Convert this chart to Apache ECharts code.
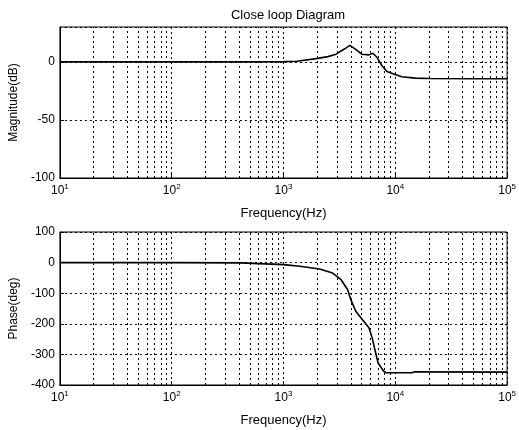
<!DOCTYPE html>
<html>
<head>
<meta charset="utf-8">
<script src="https://cdn.jsdelivr.net/npm/echarts@6/dist/echarts.min.js"></script>
<style>
  html, body { margin: 0; padding: 0; background: #fff; }
  #chart { width: 519px; height: 430px; }
</style>
</head>
<body>
<div id="chart"></div>
<script>
// magnitude response (Hz, dB)
const magFreq = [10, 500, 1000, 1320, 1960, 2500, 2950, 3470, 3920, 4430, 5000, 5810, 6300, 6880, 7600, 8430, 9660, 11430, 15000, 20000, 50000, 100000]
const magDb = [0, 0, 0.2, 0.5, 2.8, 4.5, 6.6, 10.8, 14.2, 10.8, 6.6, 6, 7.4, 3.7, -3.4, -8.3, -10.5, -12.8, -14, -14.3, -14.5, -14.5]

// phase response (Hz, deg)
const phaseFreq = [10, 100, 415, 1000, 1400, 2100, 2750, 3270, 3740, 4000, 4430, 5070, 5810, 6210, 6560, 7020, 7870, 8300, 14000, 15000, 100000]
const phaseDeg = [0, 0, -1, -6.5, -12, -21, -34, -56, -88, -121, -159, -186, -213, -246, -284, -328, -355, -360, -360, -357, -358]

// minor log grid positions (2..9 per decade)
const minorGrid = [20, 30, 40, 50, 60, 70, 80, 90,
    200, 300, 400, 500, 600, 700, 800, 900,
    2000, 3000, 4000, 5000, 6000, 7000, 8000, 9000,
    20000, 30000, 40000, 50000, 60000, 70000, 80000, 90000]

const FONT = 'Liberation Sans, Arial, sans-serif'
const dotted = { color: '#000', width: 1, type: [2, 3] }

function xAxisCfg(gridIndex) {
    return {
        type: 'log',
        logBase: 10,
        gridIndex: gridIndex,
        min: 10,
        max: 100000,
        name: 'Frequency(Hz)',
        nameLocation: 'middle',
        nameGap: 29,
        nameTextStyle: { color: '#000', fontSize: 13, fontFamily: FONT },
        axisLine: { onZero: false, lineStyle: { color: '#000' } },
        axisTick: { inside: true, length: 4, lineStyle: { color: '#000' } },
        splitLine: { show: true, lineStyle: dotted },
        axisLabel: {
            color: '#000',
            margin: 5,
            fontFamily: FONT,
            formatter: v => '{b|10}{s|' + Math.round(Math.log10(v)) + '}',
            rich: {
                b: { fontSize: 12, fontFamily: FONT, color: '#000' },
                s: { fontSize: 8, fontFamily: FONT, color: '#000', padding: [0, 0, 8, 0] }
            }
        }
    }
}

function yAxisCfg(gridIndex, name, min, max, interval) {
    return {
        type: 'value',
        gridIndex: gridIndex,
        min: min,
        max: max,
        interval: interval,
        name: name,
        nameLocation: 'middle',
        nameGap: 38,
        nameTextStyle: { color: '#000', fontSize: 12, fontFamily: FONT },
        axisLine: { show: true, onZero: false, lineStyle: { color: '#000' } },
        axisTick: { show: true, inside: true, length: 4, lineStyle: { color: '#000' } },
        splitLine: { show: true, lineStyle: dotted },
        axisLabel: { color: '#000', fontSize: 12, fontFamily: FONT, margin: 5, showMaxLabel: max % interval === 0 }
    }
}

function minorLines() {
    return {
        silent: true,
        symbol: 'none',
        label: { show: false },
        lineStyle: dotted,
        data: minorGrid.map(f => ({ xAxis: f }))
    }
}

const option = {
    backgroundColor: '#fff',
    animation: false,
    title: {
        text: 'Close loop Diagram',
        left: 283,
        textAlign: 'center',
        top: 4,
        textStyle: { fontSize: 13, fontWeight: 'normal', color: '#000', fontFamily: FONT }
    },
    grid: [
        { left: 57, top: 27, width: 453, height: 151, show: true, borderColor: '#000', borderWidth: 1 },
        { left: 57, top: 232, width: 453, height: 153, show: true, borderColor: '#000', borderWidth: 1 }
    ],
    xAxis: [xAxisCfg(0), xAxisCfg(1)],
    yAxis: [
        yAxisCfg(0, 'Magnitude(dB)', -100, 30, 50),
        yAxisCfg(1, 'Phase(deg)', -400, 100, 100)
    ],
    series: [{
        type: 'line',
        xAxisIndex: 0,
        yAxisIndex: 0,
        data: magFreq.map((f, i) => [f, magDb[i]]),
        showSymbol: false,
        lineStyle: { color: '#000', width: 1.6 },
        markLine: minorLines()
    }, {
        type: 'line',
        xAxisIndex: 1,
        yAxisIndex: 1,
        data: phaseFreq.map((f, i) => [f, phaseDeg[i]]),
        showSymbol: false,
        lineStyle: { color: '#000', width: 1.6 },
        markLine: minorLines()
    }]
}

const chart = echarts.init(document.getElementById('chart'))
chart.setOption(option)
</script>
</body>
</html>
